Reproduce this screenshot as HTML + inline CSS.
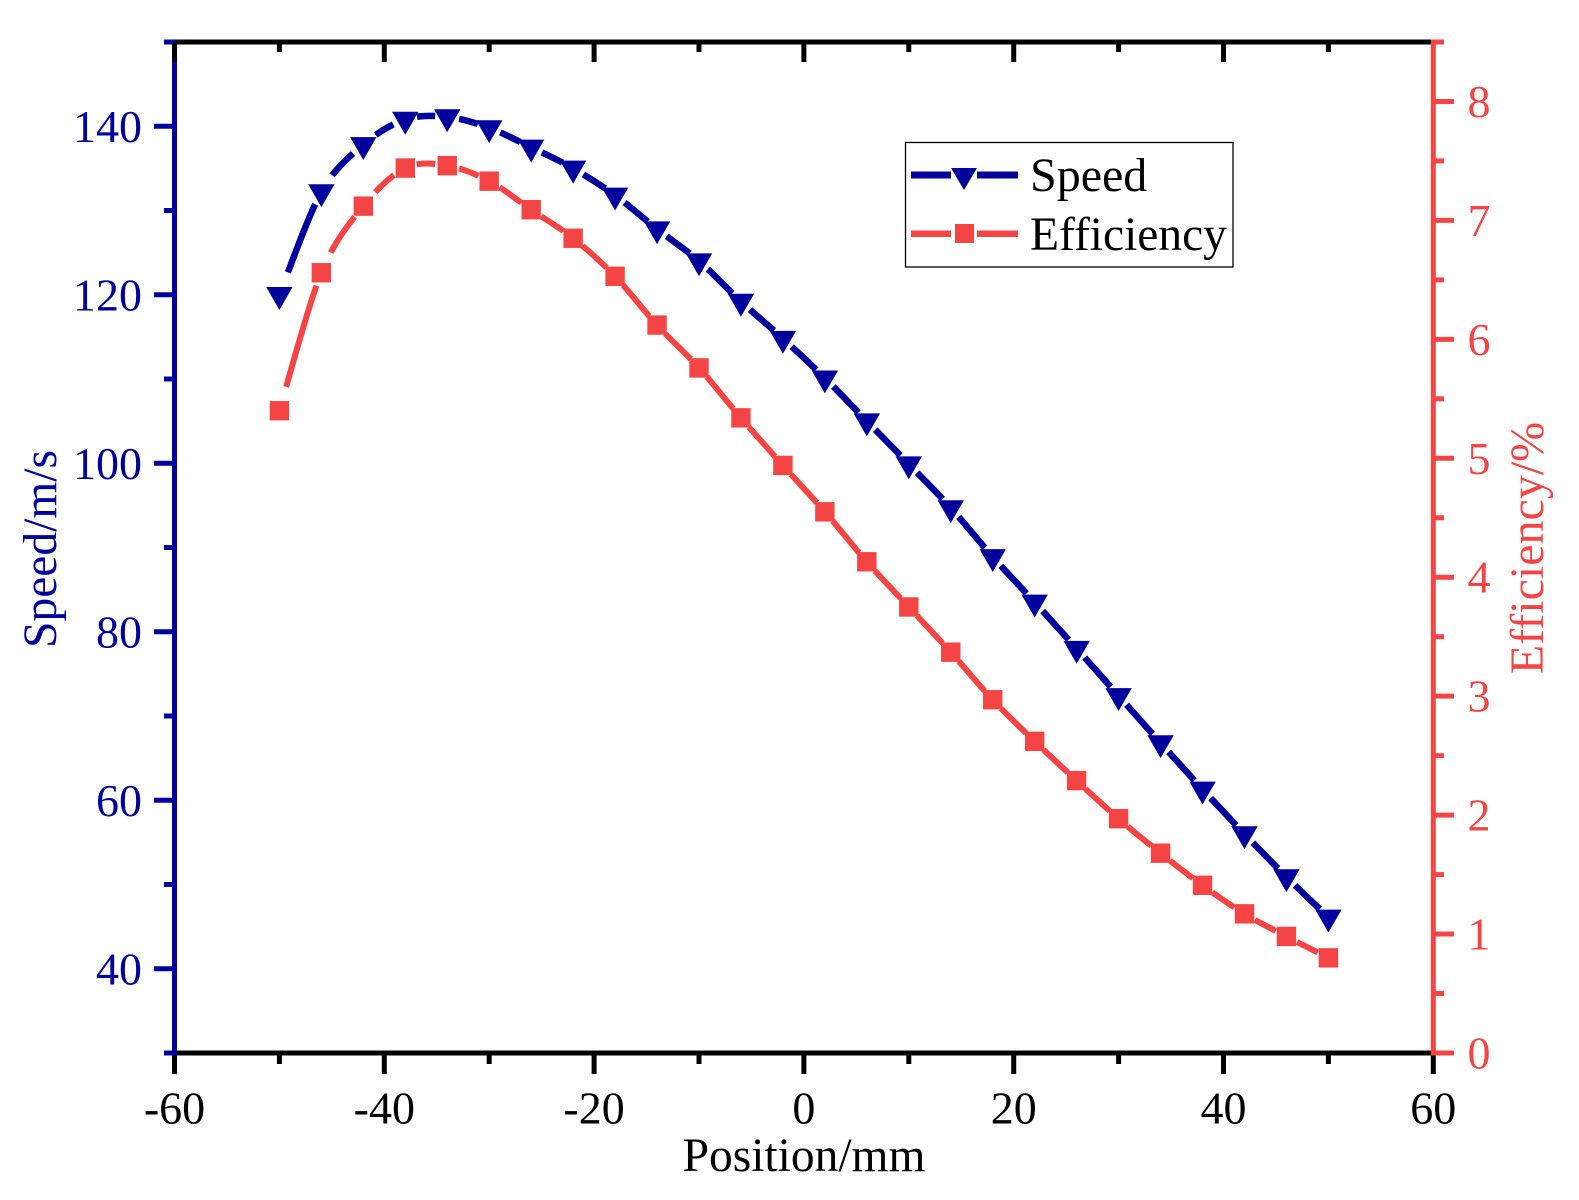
<!DOCTYPE html>
<html lang="en">
<head>
<meta charset="utf-8">
<title>Speed and Efficiency vs Position</title>
<style>
html,body{margin:0;padding:0;background:#fff;}
svg{display:block;}
text{font-family:"Liberation Serif",serif;}
</style>
</head>
<body>
<svg id="chart" xmlns="http://www.w3.org/2000/svg" width="1579" height="1200" viewBox="0 0 1579 1200">
  <rect x="0" y="0" width="1579" height="1200" fill="#ffffff"/>
  <g id="series"></g>
  <g id="axes"></g>
  <text x="804" y="1171" font-size="47.5" text-anchor="middle" fill="#000000">Position/mm</text>
  <text transform="translate(56,549) rotate(-90)" font-size="47.5" text-anchor="middle" fill="#00009c">Speed/m/s</text>
  <text transform="translate(1543,548) rotate(-90)" font-size="48" text-anchor="middle" fill="#f44444">Efficiency/%</text>
  <g>
    <rect x="905.5" y="142.5" width="327.5" height="124.5" fill="#ffffff" stroke="#000000" stroke-width="1.3"/>
    <rect x="911" y="171.5" width="40" height="7" fill="#00009c"/>
    <rect x="977" y="171.5" width="41" height="7" fill="#00009c"/>
    <polygon points="951,168 977,168 964,190" fill="#00009c"/>
    <text x="1030" y="191" font-size="48" fill="#000000">Speed</text>
    <rect x="911" y="230.5" width="40" height="6.5" fill="#f44444"/>
    <rect x="977" y="230.5" width="41" height="6.5" fill="#f44444"/>
    <rect x="955" y="224" width="19" height="19" fill="#f44444"/>
    <text x="1030" y="250" font-size="47.5" fill="#000000">Efficiency</text>
  </g>
</svg>
<script>
const positions = [-50,-46,-42,-38,-34,-30,-26,-22,-18,-14,-10,-6,-2,2,6,10,14,18,22,26,30,34,38,42,46,50];
const speedValues = [120,132.2,137.8,140.8,141.1,139.8,137.5,135,131.8,127.8,124,119.2,114.8,110.1,105,99.9,94.7,88.9,83.5,78,72.4,66.8,61.3,56,50.9,46.1];
const efficiencyValues = [5.4,6.56,7.12,7.44,7.46,7.33,7.09,6.85,6.53,6.12,5.76,5.34,4.94,4.55,4.13,3.75,3.37,2.97,2.62,2.29,1.97,1.68,1.41,1.17,0.98,0.8];
const xTickLabels = ["-60","-40","-20","0","20","40","60"];
const speedTickLabels = ["40","60","80","100","120","140"];
const efficiencyTickLabels = ["0","1","2","3","4","5","6","7","8"];

const NS = "http://www.w3.org/2000/svg";
const BLUE = "#00009c", RED = "#f44444", BLACK = "#000000";
const LEFT = 174.5, RIGHT = 1433.3, TOP = 42, BOTTOM = 1053;
const xMin = -60, xMax = 60, speedMin = 30, speedMax = 150, effMin = 0, effMax = 8.5;

function xScale(v){ return LEFT + (v - xMin) / (xMax - xMin) * (RIGHT - LEFT); }
function speedScale(v){ return BOTTOM - (v - speedMin) / (speedMax - speedMin) * (BOTTOM - TOP); }
function effScale(v){ return BOTTOM - (v - effMin) / (effMax - effMin) * (BOTTOM - TOP); }

function make(tag, attrs, parent){
  const el = document.createElementNS(NS, tag);
  for (const k in attrs) el.setAttribute(k, attrs[k]);
  parent.appendChild(el);
  return el;
}

const axes = document.getElementById("axes");
const series = document.getElementById("series");

function drawSeries(values, yScale, color, name, width){
  const pts = positions.map(function(p, i){ return [xScale(p), yScale(values[i])]; });
  for (let i = 0; i < pts.length - 1; i++) {
    const p0 = pts[Math.max(i - 1, 0)], p1 = pts[i], p2 = pts[i + 1], p3 = pts[Math.min(i + 2, pts.length - 1)];
    const c1 = [p1[0] + (p2[0] - p0[0]) / 6, p1[1] + (p2[1] - p0[1]) / 6];
    const c2 = [p2[0] - (p3[0] - p1[0]) / 6, p2[1] - (p3[1] - p1[1]) / 6];
    const seg = make("path", {
      d: "M" + p1[0] + " " + p1[1] + "C" + c1[0] + " " + c1[1] + " " + c2[0] + " " + c2[1] + " " + p2[0] + " " + p2[1],
      fill: "none", stroke: color, "stroke-width": width
    }, series);
    
    
    const len = seg.getTotalLength();
    const rise = Math.max(0, (p1[1] - p2[1]) / Math.hypot(p2[0] - p1[0], p2[1] - p1[1]));
    const g0 = 12 + 14 * rise * rise;
    const g1 = 12 + 2 * rise;
    seg.setAttribute("stroke-dasharray", "0 " + g0 + " " + Math.max(0, len - g0 - g1) + " 9999");
  }
  return pts;
}

const speedPts = drawSeries(speedValues, speedScale, BLUE, "speed", 6.5);
const effPts = drawSeries(efficiencyValues, effScale, RED, "efficiency", 6);

speedPts.forEach(function(p){
  const m = make("polygon", {
    points: (p[0] - 13.2) + "," + (p[1] - 7.7) + " " + (p[0] + 13.2) + "," + (p[1] - 7.7) + " " + p[0] + "," + (p[1] + 15.2),
    fill: BLUE
  }, series);
  
  
});
effPts.forEach(function(p){
  const m = make("rect", { x: p[0] - 9.7, y: p[1] - 9.7, width: 19.4, height: 19.4, fill: RED }, series);
  
  
});

function line(x1, y1, x2, y2, color, w, name){
  const l = make("line", { x1: x1, y1: y1, x2: x2, y2: y2, stroke: color, "stroke-width": w }, axes);
  
  
  return l;
}
function label(x, y, str, color, anchor, name){
  const t = make("text", { x: x, y: y, fill: color, "font-size": 46, "text-anchor": anchor }, axes);
  t.textContent = str;
  
  
  return t;
}

/* bottom and top axes */
line(LEFT, BOTTOM, RIGHT, BOTTOM, BLACK, 5, "bottom-x-axis-line");
line(LEFT, TOP, RIGHT, TOP, BLACK, 5, "top-x-axis-line");

/* left axis and ticks */
line(LEFT, TOP - 2, LEFT, BOTTOM + 2.5, BLUE, 5, "left-y-axis-line");
for (let v = speedMin; v <= speedMax; v += 10) {
  const major = (v - 40) % 20 === 0;
  line(major ? 154 : 164, speedScale(v), LEFT, speedScale(v), BLUE, 5, "left-y-tick");
}
speedTickLabels.forEach(function(s){
  label(142, speedScale(Number(s)) + 15.5, s, BLUE, "end", "left-y-tick-label");
});

/* x ticks */
for (let v = xMin; v <= xMax; v += 10) {
  const major = v % 20 === 0;
  const x = xScale(v);
  line(x, BOTTOM + 2.5, x, major ? 1074 : 1064, BLACK, 5, "bottom-x-tick");
  if (v < xMax) line(x, TOP, x, major ? 62 : 52, BLACK, 5, "top-x-tick");
}
xTickLabels.forEach(function(s){
  label(xScale(Number(s)), 1123.5, s, BLACK, "middle", "x-tick-label");
});

/* right axis and ticks */
line(RIGHT, TOP - 2.5, RIGHT, BOTTOM + 2.5, RED, 5, "right-y-axis-line");
for (let i = 0; i <= 17; i++) {
  const v = effMin + i * 0.5;
  line(RIGHT, effScale(v), i % 2 === 0 ? 1454 : 1444, effScale(v), RED, 5, "right-y-tick");
}
efficiencyTickLabels.forEach(function(s){
  label(1467.5, effScale(Number(s)) + 15.5, s, RED, "start", "right-y-tick-label");
});
</script>
</body>
</html>
